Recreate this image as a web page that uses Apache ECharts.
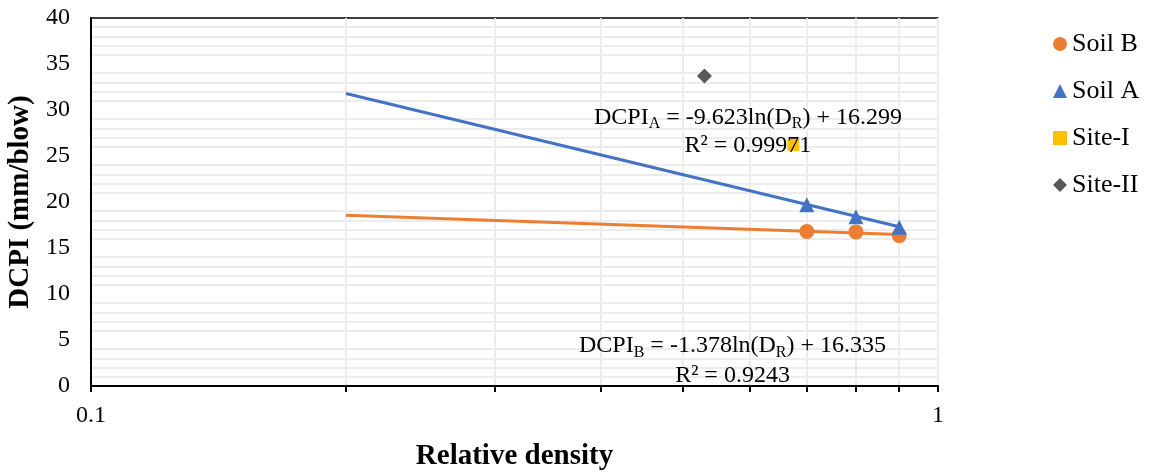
<!DOCTYPE html>
<html>
<head>
<meta charset="utf-8">
<script src="https://cdn.jsdelivr.net/npm/echarts@6/dist/echarts.min.js"></script>
<style>
html,body{margin:0;padding:0;background:#fff;}
#chart{width:1153px;height:473px;}
</style>
</head>
<body>
<div id="chart"></div>
<script>
// Data
const soilB_x = [0.7, 0.8, 0.9];
const soilB_y = [16.8, 16.75, 16.35];
const soilA_x = [0.7, 0.8, 0.9];
const soilA_y = [19.7, 18.4, 17.25];
const siteI = [[0.675, 26.2]];
const siteII = [[0.53, 33.7]];
const trendA_x = [0.2, 0.9];
const trendA_y = [31.79, 17.31];
const trendB_x = [0.2, 0.9];
const trendB_y = [18.55, 16.48];
const xTickValues = [0.1, 0.2, 0.3, 0.4, 0.5, 0.6, 0.7, 0.8, 0.9, 1];
const xLabelValues = [0.1, 1];
const legendNames = ['Soil B', 'Soil A', 'Site-I', 'Site-II'];

const zip = (xs, ys) => xs.map((x, i) => [x, ys[i]]);
const FONT = 'Liberation Serif, Times New Roman, serif';

const chart = echarts.init(document.getElementById('chart'));
chart.setOption({
  backgroundColor: '#fff',
  animation: false,
  textStyle: { fontFamily: FONT, color: '#000' },
  grid: {
    left: 91, right: 215, top: 18, bottom: 87,
    containLabel: false, outerBoundsMode: 'none',
    show: true, borderColor: '#000', borderWidth: 1.5, backgroundColor: 'transparent'
  },
  legend: {
    data: legendNames.map(n => ({ name: n })),
    orient: 'vertical',
    left: 1053, top: 31, padding: 0,
    itemWidth: 14, itemHeight: 14,
    itemGap: 21,
    textStyle: { fontFamily: FONT, fontSize: 26, color: '#000' }
  },
  xAxis: {
    type: 'log', logBase: 10, min: 0.1, max: 1,
    name: 'Relative density', nameLocation: 'middle', nameGap: 56,
    nameTextStyle: { fontFamily: FONT, fontSize: 29, fontWeight: 'bold', color: '#000' },
    axisLine: { show: true, lineStyle: { color: '#000', width: 2 } },
    axisTick: { show: true, inside: false, length: 6, customValues: xTickValues, lineStyle: { color: '#000', width: 2 } },
    axisLabel: { customValues: xLabelValues, fontFamily: FONT, fontSize: 24, color: '#000', margin: 18,
      formatter: v => String(Number(v.toPrecision(6))) },
    splitLine: { show: true, lineStyle: { color: '#ececec', width: 2 } },
    minorTick: { show: false }, minorSplitLine: { show: false }
  },
  yAxis: {
    type: 'value', min: 0, max: 40, interval: 5,
    name: 'DCPI (mm/blow)', nameLocation: 'middle', nameGap: 46, nameRotate: 90,
    nameTextStyle: { fontFamily: FONT, fontSize: 29, fontWeight: 'bold', color: '#000' },
    axisLine: { show: true, lineStyle: { color: '#000', width: 2 } },
    axisTick: { show: false },
    axisLabel: { fontFamily: FONT, fontSize: 24, color: '#000', margin: 21 },
    splitLine: { show: false },
    minorTick: { show: false, splitNumber: 5 },
    minorSplitLine: { show: true, lineStyle: { color: '#ececec', width: 2 } }
  },
  series: [
    { name: 'trendB', type: 'line', data: zip(trendB_x, trendB_y), showSymbol: false, symbol: 'none',
      lineStyle: { color: '#ED7D31', width: 3 }, itemStyle: { color: '#ED7D31' }, z: 2, silent: true },
    { name: 'trendA', type: 'line', data: zip(trendA_x, trendA_y), showSymbol: false, symbol: 'none',
      lineStyle: { color: '#4472C4', width: 3 }, itemStyle: { color: '#4472C4' }, z: 2, silent: true },
    { name: 'Soil B', type: 'scatter', data: zip(soilB_x, soilB_y), symbol: 'circle', symbolSize: 15,
      itemStyle: { color: '#ED7D31', opacity: 1 }, z: 3 },
    { name: 'Soil A', type: 'scatter', data: zip(soilA_x, soilA_y), symbol: 'triangle', symbolSize: 15,
      itemStyle: { color: '#4472C4', opacity: 1 }, z: 3 },
    { name: 'Site-I', type: 'scatter', data: siteI, symbol: 'rect', symbolSize: 12,
      itemStyle: { color: '#FFC000', opacity: 1 }, z: 3 },
    { name: 'Site-II', type: 'scatter', data: siteII, symbol: 'diamond', symbolSize: 15,
      itemStyle: { color: '#595959', opacity: 1 }, z: 3 }
  ],
  graphic: [
    {
      type: 'text', left: 594, top: 106, z: 10,
      style: {
        text: '{n|DCPI}{s|A}{n| = -9.623ln(D}{s|R}{n|) + 16.299}\n{n|R² = 0.99971}',
        align: 'center',
        rich: {
          n: { fontFamily: FONT, fontSize: 24, color: '#000', lineHeight: 28, align: 'center' },
          s: { fontFamily: FONT, fontSize: 16, color: '#000', lineHeight: 28, verticalAlign: 'bottom', padding: [8, 0, 0, 0] }
        }
      }
    },
    {
      type: 'text', left: 579, top: 334, z: 10,
      style: {
        text: '{n|DCPI}{s|B}{n| = -1.378ln(D}{s|R}{n|) + 16.335}\n{n|R² = 0.9243}',
        align: 'center',
        rich: {
          n: { fontFamily: FONT, fontSize: 24, color: '#000', lineHeight: 30, align: 'center' },
          s: { fontFamily: FONT, fontSize: 16, color: '#000', lineHeight: 30, verticalAlign: 'bottom', padding: [8, 0, 0, 0] }
        }
      }
    }
  ]
});
</script>
</body>
</html>
